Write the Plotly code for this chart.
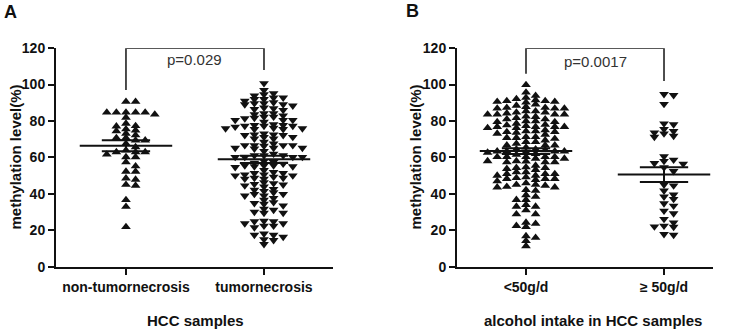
import numpy as np
import plotly.graph_objects as go

# ---------------- data ----------------
y_ticks = [0, 20, 40, 60, 80, 100, 120]

a_categories = ["non-tumornecrosis", "tumornecrosis"]
a_non_tumornecrosis = [
    90.6, 90.6,
    84.7, 84.7, 83.6, 81.9, 84.7, 84.7, 84.7,
    77.3, 75.5, 74.9, 77.1, 78.6, 74.5,
    73.1, 70.7, 69.4, 69.4, 70.7, 72.2,
    67.6, 65.7,
    63.9, 63.0, 61.7, 60.2, 60.2, 63.0, 63.0,
    57.4, 55.2, 52.3, 52.3, 47.9, 48.6, 44.6, 45.1,
    36.7, 33.0, 21.9,
]
a_tumornecrosis = [
    100.7,
    97.0, 95.2, 93.9, 94.6,
    92.8, 92.0, 92.0, 92.8, 91.0, 89.1,
    89.1, 90.2, 88.4, 89.7, 86.5, 86.0, 86.9, 87.3, 89.7,
    84.2, 83.6, 84.2, 82.3, 80.5, 79.5, 81.7, 82.3, 81.4, 80.5, 80.5,
    77.3, 76.2, 77.7, 75.5, 77.7, 75.9, 77.3, 75.5, 76.8, 78.1, 75.9, 77.3,
    72.6, 71.2, 72.6, 72.2, 71.2, 72.2, 73.1, 70.3, 70.3,
    66.7, 65.2, 67.6, 64.8, 66.7, 65.2, 66.7, 65.2, 66.7, 66.3,
    61.1, 60.2, 60.2, 61.1, 60.2, 60.2, 61.1,
    83.0, 68.5, 63.5, 62.0, 58.0, 57.5, 57.0, 56.5, 53.0,
    55.1, 54.7, 55.6, 55.6, 55.1, 55.6,
    51.4, 50.6, 50.1, 50.1, 50.6, 51.4, 51.9,
    48.8, 48.3, 48.8, 48.3, 49.4,
    45.8, 45.1, 44.0, 42.7, 46.3, 44.6, 45.4,
    42.2, 41.6,
    39.9, 39.0, 37.7, 39.0, 39.9, 40.8,
    35.4, 36.7, 34.9,
    34.5, 31.8, 31.2, 33.6,
    30.1, 29.6, 29.6,
    24.9, 23.8, 22.5, 25.2, 21.6, 22.5, 23.8, 24.9,
    17.5, 16.4, 15.1, 17.5, 18.2,
    12.4, 14.6,
]
a_means = [66.4, 59.0]
a_sems = [3.0, 2.0]
a_bracket = [97, 120, 120, 108]
a_p_text = "p=0.029"
a_p_y = 113.5
a_x_title = "HCC samples"

b_categories = ["<50g/d", "≥ 50g/d"]
b_low_intake = [
    99.8,
    95.7,
    92.8, 90.6, 89.1, 91.5, 91.0, 92.1, 93.9, 90.2, 90.6, 91.0,
    86.9, 87.3, 87.8, 86.9, 87.3, 86.9, 85.4,
    83.6, 83.6, 82.3, 84.7, 85.4, 83.6, 84.2, 83.6, 84.7,
    79.9, 81.0, 79.5, 81.7, 79.9, 81.0, 79.5,
    76.8, 76.2, 76.8, 77.7, 78.6, 76.8, 77.3, 76.2, 76.8,
    74.0, 74.0, 73.1, 74.4, 73.6, 74.4, 72.6,
    71.3, 70.8, 71.3, 70.3, 70.8, 69.4,
    66.7, 67.6, 66.7, 68.5, 66.7, 68.5,
    63.4, 62.7, 63.4, 64.5, 63.4, 64.5, 63.4, 63.0,
    60.3, 60.3, 59.4, 60.3, 59.4, 60.3, 60.3,
    88.5, 82.5, 78.0, 75.0, 65.5, 62.0, 64.0, 61.5,
    57.4, 57.8, 58.0, 57.4, 58.0, 57.4,
    55.6, 54.3, 53.8, 54.3, 54.7, 53.2, 51.9, 51.9, 51.0, 50.1, 51.0, 50.1, 51.0,
    47.0, 49.2, 48.3, 47.7, 48.3, 48.3, 48.8, 45.1, 44.6, 43.6, 44.0, 45.1, 45.9,
    42.2, 41.8, 43.6,
    39.4, 36.8, 36.8, 38.5, 33.1, 31.1, 28.9, 28.9, 33.1, 34.0,
    24.3, 22.5, 21.9, 23.7, 16.0, 14.2, 16.9, 11.4,
]
b_high_intake = [
    94.2, 94.7, 89.3,
    78.1, 78.6, 75.5, 74.4, 73.7, 73.1, 71.8, 71.3,
    60.6, 58.7, 58.0, 56.9, 56.5,
    54.5, 52.5,
    45.1, 44.6, 41.8,
    39.6, 38.5, 37.2, 34.8, 33.5, 30.7, 29.3,
    26.2, 24.3, 22.5, 22.1, 21.9, 17.9, 17.5,
]
b_means = [63.5, 50.6]
b_sems = [1.6, 4.1]
b_bracket = [106, 120, 120, 102]
b_p_text = "p=0.0017"
b_p_y = 112.7
b_x_title = "alcohol intake in HCC samples"

y_title = "methylation level(%)"

# ---------------- layout geometry ----------------
W_FIG, H_FIG = 736, 331
# the rendered paper area spans page rows 8..322 (measured), so map page px -> paper
PAPER_TOP, PAPER_H = 8.0, 314.0
PX_PER_CAT = 138.0
PX_PER_VAL = 218.0 / 120.0
FONT = "Liberation Sans, Arial, sans-serif"
INK = "#111111"


def py(y_px):
    return 1 - (y_px - PAPER_TOP) / PAPER_H


def swarm_offsets(values, W=9.6, H=4.2):
    """Greedy beeswarm: offsets (in category units) so markers don't overlap."""
    vals = np.asarray(values, dtype=float)
    order = np.argsort(-vals, kind="stable")
    step = W / 2.0
    cands = [0.0]
    for k in range(1, 40):
        cands += [k * step, -k * step]
    placed = []
    out = np.zeros(len(vals))
    for i in order:
        y = vals[i] * PX_PER_VAL
        for c in cands:
            ok = True
            for (px, pyy) in placed:
                if abs(c - px) < W - 1e-6 and abs(y - pyy) < H:
                    ok = False
                    break
            if ok:
                break
        placed.append((c, y))
        out[i] = c / PX_PER_CAT
    return out


fig = go.Figure()


def add_panel(xa, ya, groups, symbols, packing, means, sems, bracket, p_text, p_y):
    for gi, (vals, sym, hgap) in enumerate(zip(groups, symbols, packing)):
        offs = swarm_offsets(vals, H=hgap)
        fig.add_trace(go.Scatter(
            x=gi + offs, y=vals, mode="markers", xaxis=xa, yaxis=ya,
            marker=dict(symbol=sym, size=8.5, color=INK, line=dict(width=0)),
            showlegend=False, hoverinfo="y"))
    mx, my = [], []
    ex, ey = [], []
    for gi, (m, s) in enumerate(zip(means, sems)):
        mx += [gi - 0.335, gi + 0.335, None]
        my += [m, m, None]
        ex += [gi - 0.175, gi + 0.175, None, gi - 0.175, gi + 0.175, None, gi, gi, None]
        ey += [m + s, m + s, None, m - s, m - s, None, m - s, m + s, None]
    fig.add_trace(go.Scatter(x=mx, y=my, mode="lines", xaxis=xa, yaxis=ya,
                             line=dict(color=INK, width=2), showlegend=False, hoverinfo="skip"))
    fig.add_trace(go.Scatter(x=ex, y=ey, mode="lines", xaxis=xa, yaxis=ya,
                             line=dict(color=INK, width=2), showlegend=False, hoverinfo="skip"))
    fig.add_trace(go.Scatter(x=[0, 0, 1, 1], y=bracket, mode="lines", xaxis=xa, yaxis=ya,
                             line=dict(color="#222222", width=1.6), cliponaxis=False,
                             showlegend=False, hoverinfo="skip"))
    fig.add_annotation(x=0.5, y=p_y, xref=xa, yref=ya, text=p_text, showarrow=False,
                       font=dict(family=FONT, size=15, color="#333333"),
                       xanchor="center", yanchor="middle")


add_panel("x", "y", [a_non_tumornecrosis, a_tumornecrosis], ["triangle-up", "triangle-down"],
          [4.2, 3.3], a_means, a_sems, a_bracket, a_p_text, a_p_y)
add_panel("x2", "y2", [b_low_intake, b_high_intake], ["triangle-up", "triangle-down"],
          [4.2, 4.2], b_means, b_sems, b_bracket, b_p_text, b_p_y)

ydom = [py(266), py(48)]
axis_common = dict(showline=True, linewidth=2, linecolor=INK, ticks="outside",
                   ticklen=6, tickwidth=2, tickcolor=INK, showgrid=False, zeroline=False,
                   tickfont=dict(family=FONT, size=14, color=INK, weight="bold"))

fig.update_layout(
    width=W_FIG, height=H_FIG, autosize=False,
    margin=dict(l=0, r=0, t=0, b=0),
    paper_bgcolor="white", plot_bgcolor="white",
    xaxis=dict(domain=[56 / W_FIG, 333 / W_FIG], range=[-0.507, 1.5], anchor="y",
               tickvals=[0, 1], ticktext=a_categories, **axis_common),
    yaxis=dict(domain=ydom, range=[0, 120], anchor="x", tickvals=y_ticks, **axis_common),
    xaxis2=dict(domain=[457 / W_FIG, 713 / W_FIG], range=[-0.5, 1.355], anchor="y2",
                tickvals=[0, 1], ticktext=b_categories, **axis_common),
    yaxis2=dict(domain=ydom, range=[0, 120], anchor="x2", tickvals=y_ticks, **axis_common),
)

title_font = dict(family=FONT, size=15, color=INK, weight="bold")
for xc, txt in [(195, a_x_title), (593, b_x_title)]:
    fig.add_annotation(x=xc / W_FIG, y=py(320), xref="paper", yref="paper",
                       text=txt, showarrow=False, font=title_font,
                       xanchor="center", yanchor="middle")
for xc in [15, 415]:
    fig.add_annotation(x=xc / W_FIG, y=py(157), xref="paper", yref="paper",
                       text=y_title, showarrow=False, font=title_font, textangle=-90,
                       xanchor="center", yanchor="middle")
for xc, yc, letter in [(10, 12, "A"), (412, 11, "B")]:
    fig.add_annotation(x=xc / W_FIG, y=py(yc), xref="paper", yref="paper",
                       text=letter, showarrow=False,
                       font=dict(family=FONT, size=18, color=INK, weight="bold"),
                       xanchor="center", yanchor="middle")

fig.write_html("out.html",
               config={"responsive": False, "displayModeBar": False},
               post_script="document.body.style.margin='0';document.body.style.overflow='hidden';")
